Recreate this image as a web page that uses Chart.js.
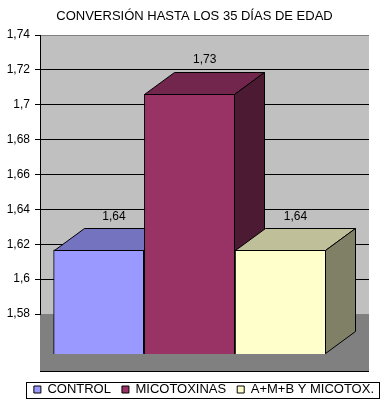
<!DOCTYPE html>
<html><head><meta charset="utf-8">
<script src="https://cdn.jsdelivr.net/npm/chart.js@4/dist/chart.umd.min.js"></script>
<style>html,body{margin:0;padding:0;background:#fff}canvas{display:block}</style>
</head><body>
<canvas id="c" width="385" height="417"></canvas>
<script>
// ---- data ----
const categories = ['CONTROL', 'MICOTOXINAS', 'A+M+B Y MICOTOX.'];
const values = [1.64, 1.73, 1.64];
const valueLabels = ['1,64', '1,73', '1,64'];
const barColors = ['#9999FF', '#993366', '#FFFFCC'];
const yMin = 1.58, yMax = 1.74, yStep = 0.02;

// ---- style ----
const FONT = "'Liberation Sans', Arial, sans-serif";
const DX = 30, DY = 22;           // 3D depth of bars
const WALL = '#C0C0C0', FLOOR = '#808080';
const BAR_AXIS_MIN = 1.6028, BAR_AXIS_MAX = 1.7643, BAR_BASE = 1.5796;

function shade(hex, f) {
  const n = parseInt(hex.slice(1), 16);
  const r = Math.round(((n >> 16) & 255) * f), g = Math.round(((n >> 8) & 255) * f), b = Math.round((n & 255) * f);
  return `rgb(${r},${g},${b})`;
}
function fmt(v) { return (Math.round(v * 100) / 100).toString().replace('.', ','); }

Chart.defaults.font.family = FONT;
Chart.defaults.color = '#000';

const wallPlugin = {
  id: 'wall',
  beforeDraw(chart) {
    const {ctx, chartArea: a} = chart;
    const xb = chart.scales.xb;
    ctx.save();
    ctx.fillStyle = WALL;
    ctx.fillRect(a.left, a.top, a.right - a.left, a.bottom - a.top);
    ctx.fillStyle = FLOOR;
    ctx.fillRect(a.left, a.bottom, a.right - a.left, xb.bottom - a.bottom);
    ctx.strokeStyle = FLOOR; ctx.lineWidth = 1;
    ctx.beginPath(); ctx.moveTo(a.left, Math.round(a.top) + 0.5); ctx.lineTo(a.right, Math.round(a.top) + 0.5); ctx.stroke();
    ctx.strokeStyle = '#000';
    ctx.beginPath(); ctx.moveTo(a.left, Math.round(xb.bottom) - 0.5); ctx.lineTo(a.right, Math.round(xb.bottom) - 0.5); ctx.stroke();
    ctx.restore();
  }
};

const box3dPlugin = {
  id: 'box3d',
  afterDatasetDraw(chart, args) {
    const {ctx} = chart;
    const ds = chart.data.datasets[args.index];
    const col = ds.backgroundColor;
    args.meta.data.forEach((el) => {
      const p = el.getProps(['x', 'y', 'base', 'width'], true);
      const l = Math.round(p.x - p.width / 2) + 0.5, r = Math.round(p.x + p.width / 2) - 0.5;
      const t = Math.round(p.y) + 0.5, b = Math.round(p.base) - 0.5;
      ctx.save();
      ctx.lineWidth = 1; ctx.strokeStyle = '#000'; ctx.lineJoin = 'round';
      ctx.fillStyle = shade(col, 0.75);
      ctx.beginPath();
      ctx.moveTo(l, t); ctx.lineTo(l + DX, t - DY); ctx.lineTo(r + DX, t - DY); ctx.lineTo(r, t); ctx.closePath();
      ctx.fill(); ctx.stroke();
      ctx.fillStyle = shade(col, 0.5);
      ctx.beginPath();
      ctx.moveTo(r, t); ctx.lineTo(r + DX, t - DY); ctx.lineTo(r + DX, b - DY); ctx.lineTo(r, b); ctx.closePath();
      ctx.fill(); ctx.stroke();
      ctx.restore();
    });
  },
  afterDatasetsDraw(chart) {
    const {ctx} = chart;
    const y = chart.scales.y;
    ctx.save();
    ctx.font = '12px ' + FONT; ctx.fillStyle = '#000';
    ctx.textAlign = 'center'; ctx.textBaseline = 'middle';
    chart.data.datasets.forEach((ds, i) => {
      chart.getDatasetMeta(i).data.forEach((el, j) => {
        const px = el.getProps(['x'], true).x;
        ctx.fillText(valueLabels[i], px + DX / 2, y.getPixelForValue(ds.data[j].y) + 7);
      });
    });
    ctx.restore();
  },
  afterDraw(chart) {
    const hb = chart.legend && chart.legend.legendHitBoxes;
    if (!hb || !hb.length) return;
    const {ctx} = chart;
    const L = Math.min(...hb.map(h => h.left)) - 8;
    const R = Math.max(...hb.map(h => h.left + h.width)) + 5;
    const T = Math.min(...hb.map(h => h.top)) - 1;
    const B = Math.max(...hb.map(h => h.top + h.height)) + 2;
    ctx.save();
    ctx.strokeStyle = '#000'; ctx.lineWidth = 1;
    ctx.strokeRect(Math.round(L) + 0.5, Math.round(T) + 0.5, Math.round(R - L), Math.round(B - T));
    ctx.restore();
  }
};

const datasets = categories.map((name, i) => ({
  label: name,
  data: [{x: i, y: values[i]}],
  backgroundColor: barColors[i],
  borderColor: '#000',
  borderWidth: 1,
  order: categories.length - i,
  xAxisID: 'xb',
  yAxisID: 'y2'
}));

new Chart(document.getElementById('c'), {
  type: 'bar',
  data: { datasets },
  options: {
    responsive: false,
    animation: false,
    devicePixelRatio: 1,
    layout: { padding: { left: 4, right: 0, top: 0, bottom: 11 } },
    datasets: { bar: { grouped: false, barPercentage: 1, categoryPercentage: 1, base: BAR_BASE, clip: false } },
    scales: {
      xb: {
        type: 'linear', position: 'bottom', min: -0.65, max: 2.975, offset: false,
        ticks: { display: false, stepSize: 1, includeBounds: false },
        grid: { display: false, offset: false }, border: { display: false },
        afterFit(s) { s.height = 58; }
      },
      y2: {
        type: 'linear', position: 'right', min: BAR_AXIS_MIN, max: BAR_AXIS_MAX,
        ticks: { display: false }, grid: { display: false }, border: { display: false },
        afterFit(s) { s.width = 16; }
      },
      y: {
        type: 'linear', position: 'left', min: yMin, max: yMax,
        ticks: { stepSize: yStep, padding: 5, color: '#000', font: { size: 12 }, callback: (v) => fmt(v) },
        grid: {
          color: (c) => (c.tick && (Math.abs(c.tick.value - yMin) < 1e-6 || Math.abs(c.tick.value - yMax) < 1e-6)) ? 'rgba(0,0,0,0)' : '#000',
          tickColor: '#000', tickLength: 5, lineWidth: 1
        },
        border: { display: true, color: '#000', width: 1 },
        afterFit(s) { s.width = 36; }
      }
    },
    plugins: {
      title: { display: true, text: 'CONVERSIÓN HASTA LOS 35 DÍAS DE EDAD', color: '#000',
               font: { size: 13, weight: 'normal' }, padding: { top: 8.7, bottom: 10.7 } },
      legend: { position: 'bottom', align: 'end',
        labels: { boxWidth: 7, boxHeight: 7, padding: 11, color: '#000', font: { size: 13 },
                  sort: (a, b) => a.datasetIndex - b.datasetIndex } },
      tooltip: { enabled: false }
    }
  },
  plugins: [wallPlugin, box3dPlugin]
});
</script>
</body></html>
